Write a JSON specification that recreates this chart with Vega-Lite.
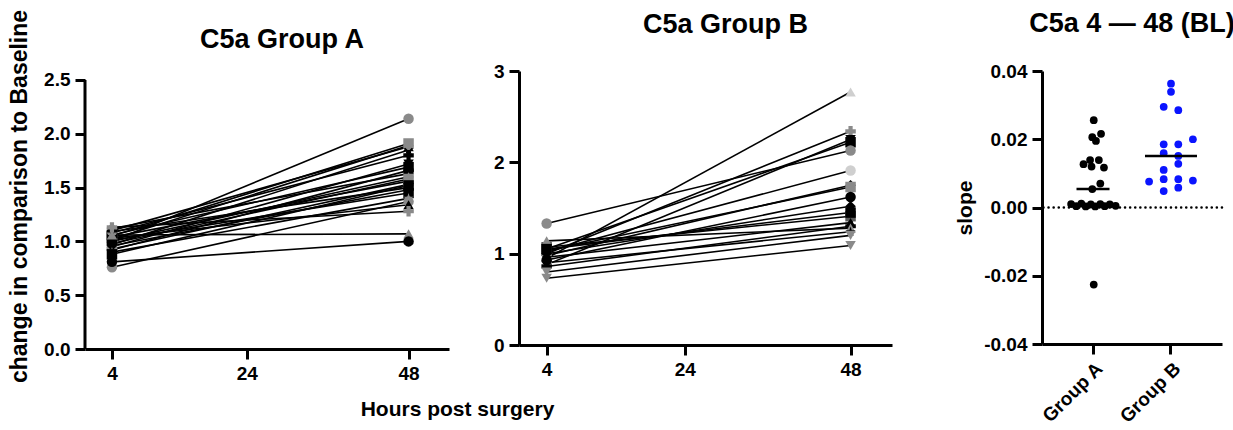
{
  "$schema": "https://vega.github.io/schema/vega-lite/v6.json",
  "background": "white",
  "padding": {"left": 8, "top": 9, "right": 5, "bottom": 5},
  "config": {
    "font": "Liberation Sans",
    "view": {"stroke": null},
    "axis": {"grid": false, "domainColor": "black", "domainWidth": 3, "tickColor": "black", "tickWidth": 3, "tickSize": 10, "labelFont": "Liberation Sans", "labelFontSize": 19, "labelFontWeight": "bold", "labelColor": "black", "labelPadding": 5, "titleFont": "Liberation Sans", "titleFontSize": 21, "titleFontWeight": "bold", "titleColor": "black"},
    "title": {"font": "Liberation Sans", "fontSize": 27, "fontWeight": "bold", "color": "black"},
    "legend": {"disable": true}
  },
  "datasets": {
    "a": [
      {"id": "A01", "h": 4, "v": 1.00}, {"id": "A01", "h": 48, "v": 2.14},
      {"id": "A02", "h": 4, "v": 1.05}, {"id": "A02", "h": 48, "v": 1.91},
      {"id": "A03", "h": 4, "v": 1.10}, {"id": "A03", "h": 48, "v": 1.88},
      {"id": "A04", "h": 4, "v": 0.97}, {"id": "A04", "h": 48, "v": 1.85},
      {"id": "A05", "h": 4, "v": 1.02}, {"id": "A05", "h": 48, "v": 1.89},
      {"id": "A06", "h": 4, "v": 1.08}, {"id": "A06", "h": 48, "v": 1.80},
      {"id": "A07", "h": 4, "v": 0.95}, {"id": "A07", "h": 48, "v": 1.72},
      {"id": "A08", "h": 4, "v": 1.06}, {"id": "A08", "h": 48, "v": 1.69},
      {"id": "A09", "h": 4, "v": 0.92}, {"id": "A09", "h": 48, "v": 1.66},
      {"id": "A10", "h": 4, "v": 1.12}, {"id": "A10", "h": 48, "v": 1.63},
      {"id": "A11", "h": 4, "v": 1.00}, {"id": "A11", "h": 48, "v": 1.60},
      {"id": "A12", "h": 4, "v": 0.98}, {"id": "A12", "h": 48, "v": 1.58},
      {"id": "A13", "h": 4, "v": 1.04}, {"id": "A13", "h": 48, "v": 1.56},
      {"id": "A14", "h": 4, "v": 0.93}, {"id": "A14", "h": 48, "v": 1.53},
      {"id": "A15", "h": 4, "v": 1.09}, {"id": "A15", "h": 48, "v": 1.50},
      {"id": "A16", "h": 4, "v": 0.96}, {"id": "A16", "h": 48, "v": 1.48},
      {"id": "A17", "h": 4, "v": 1.01}, {"id": "A17", "h": 48, "v": 1.45},
      {"id": "A18", "h": 4, "v": 0.90}, {"id": "A18", "h": 48, "v": 1.40},
      {"id": "A19", "h": 4, "v": 0.76}, {"id": "A19", "h": 48, "v": 1.37},
      {"id": "A20", "h": 4, "v": 1.03}, {"id": "A20", "h": 48, "v": 1.34},
      {"id": "A21", "h": 4, "v": 1.13}, {"id": "A21", "h": 48, "v": 1.28},
      {"id": "A22", "h": 4, "v": 0.88}, {"id": "A22", "h": 48, "v": 1.52},
      {"id": "A23", "h": 4, "v": 1.06}, {"id": "A23", "h": 48, "v": 1.07},
      {"id": "A24", "h": 4, "v": 0.81}, {"id": "A24", "h": 48, "v": 1.00}
    ],
    "b": [
      {"id": "B01", "h": 4, "v": 0.95}, {"id": "B01", "h": 48, "v": 2.77},
      {"id": "B02", "h": 4, "v": 1.00}, {"id": "B02", "h": 48, "v": 2.34},
      {"id": "B03", "h": 4, "v": 1.05}, {"id": "B03", "h": 48, "v": 2.22},
      {"id": "B04", "h": 4, "v": 0.88}, {"id": "B04", "h": 48, "v": 2.25},
      {"id": "B05", "h": 4, "v": 1.33}, {"id": "B05", "h": 48, "v": 2.13},
      {"id": "B06", "h": 4, "v": 1.02}, {"id": "B06", "h": 48, "v": 1.91},
      {"id": "B07", "h": 4, "v": 0.98}, {"id": "B07", "h": 48, "v": 1.75},
      {"id": "B08", "h": 4, "v": 1.03}, {"id": "B08", "h": 48, "v": 1.73},
      {"id": "B09", "h": 4, "v": 0.93}, {"id": "B09", "h": 48, "v": 1.62},
      {"id": "B10", "h": 4, "v": 1.00}, {"id": "B10", "h": 48, "v": 1.52},
      {"id": "B11", "h": 4, "v": 1.07}, {"id": "B11", "h": 48, "v": 1.41},
      {"id": "B12", "h": 4, "v": 0.96}, {"id": "B12", "h": 48, "v": 1.34},
      {"id": "B13", "h": 4, "v": 0.86}, {"id": "B13", "h": 48, "v": 1.30},
      {"id": "B14", "h": 4, "v": 1.14}, {"id": "B14", "h": 48, "v": 1.28},
      {"id": "B15", "h": 4, "v": 0.90}, {"id": "B15", "h": 48, "v": 1.24},
      {"id": "B16", "h": 4, "v": 0.80}, {"id": "B16", "h": 48, "v": 1.20},
      {"id": "B17", "h": 4, "v": 0.73}, {"id": "B17", "h": 48, "v": 1.09},
      {"id": "B18", "h": 4, "v": 1.05}, {"id": "B18", "h": 48, "v": 1.45}
    ],
    "slopes": [
      {"group": "Group A", "slope": 0.0256, "jit": 0.1},
      {"group": "Group A", "slope": 0.0216, "jit": 1.1},
      {"group": "Group A", "slope": 0.0206, "jit": -0.1},
      {"group": "Group A", "slope": 0.0195, "jit": 0.4},
      {"group": "Group A", "slope": 0.0139, "jit": -0.4},
      {"group": "Group A", "slope": 0.0139, "jit": 0.8},
      {"group": "Group A", "slope": 0.0127, "jit": -1.3},
      {"group": "Group A", "slope": 0.0120, "jit": -0.2},
      {"group": "Group A", "slope": 0.0117, "jit": 1.5},
      {"group": "Group A", "slope": 0.0070, "jit": 1.0},
      {"group": "Group A", "slope": 0.0054, "jit": -0.1},
      {"group": "Group A", "slope": 0.0010, "jit": -3.0},
      {"group": "Group A", "slope": 0.0004, "jit": -2.3},
      {"group": "Group A", "slope": 0.0011, "jit": -1.6},
      {"group": "Group A", "slope": 0.0003, "jit": -1.0},
      {"group": "Group A", "slope": 0.0009, "jit": -0.3},
      {"group": "Group A", "slope": 0.0003, "jit": 0.3},
      {"group": "Group A", "slope": 0.0010, "jit": 1.0},
      {"group": "Group A", "slope": 0.0004, "jit": 1.6},
      {"group": "Group A", "slope": 0.0009, "jit": 2.3},
      {"group": "Group A", "slope": 0.0005, "jit": 3.1},
      {"group": "Group A", "slope": -0.0226, "jit": 0.1},
      {"group": "Group B", "slope": 0.0363, "jit": 0},
      {"group": "Group B", "slope": 0.0339, "jit": 0},
      {"group": "Group B", "slope": 0.0295, "jit": -1},
      {"group": "Group B", "slope": 0.0285, "jit": 1},
      {"group": "Group B", "slope": 0.0200, "jit": 3},
      {"group": "Group B", "slope": 0.0185, "jit": -1},
      {"group": "Group B", "slope": 0.0185, "jit": 1},
      {"group": "Group B", "slope": 0.0159, "jit": -1},
      {"group": "Group B", "slope": 0.0151, "jit": 1},
      {"group": "Group B", "slope": 0.0128, "jit": 1},
      {"group": "Group B", "slope": 0.0110, "jit": -1},
      {"group": "Group B", "slope": 0.0076, "jit": -3},
      {"group": "Group B", "slope": 0.0083, "jit": -1},
      {"group": "Group B", "slope": 0.0083, "jit": 1},
      {"group": "Group B", "slope": 0.0079, "jit": 3},
      {"group": "Group B", "slope": 0.0048, "jit": -1},
      {"group": "Group B", "slope": 0.0058, "jit": 1}
    ],
    "means": [
      {"group": "Group A", "slope": 0.0054},
      {"group": "Group B", "slope": 0.0151}
    ]
  },
  "hconcat": [
    {
      "width": 364,
      "height": 278,
      "title": {"text": "C5a Group A", "frame": "group", "dx": 15, "offset": -45},
      "layer": [
        {
          "data": {"values": [{"k": 1}]},
          "mark": {"type": "rule", "color": "black", "strokeWidth": 3},
          "encoding": {
            "x": {"datum": 0, "type": "quantitative", "scale": {"domain": [0, 54], "nice": false, "zero": false}, "axis": {"values": [4, 24, 48], "title": "Hours post surgery", "titleX": 372, "titleY": 60, "titleBaseline": "middle"}},
            "y": {"datum": 0, "type": "quantitative", "scale": {"domain": [0, 2.5836], "nice": false}, "axis": {"values": [0, 0.5, 1, 1.5, 2, 2.5], "format": ".1f", "domain": false, "title": "change in comparison to Baseline", "titleY": 125, "titlePadding": 12, "titleFontSize": 23}},
            "y2": {"datum": 2.5}
          }
        },
        {
          "data": {"name": "a"},
          "mark": {"type": "line", "color": "black", "strokeWidth": 1.6},
          "encoding": {
            "x": {"field": "h", "type": "quantitative", "scale": {"domain": [0, 54], "nice": false, "zero": false}, "axis": {"values": [4, 24, 48], "title": "Hours post surgery", "titleX": 372, "titleY": 60, "titleBaseline": "middle"}},
            "y": {"field": "v", "type": "quantitative", "scale": {"domain": [0, 2.5836], "nice": false}, "axis": {"values": [0, 0.5, 1, 1.5, 2, 2.5], "format": ".1f", "domain": false, "title": "change in comparison to Baseline", "titleY": 125, "titlePadding": 12, "titleFontSize": 23}},
            "detail": {"field": "id", "type": "nominal"}
          }
        },
        {
          "data": {"name": "a"},
          "mark": {"type": "point", "filled": true, "size": 110, "opacity": 1},
          "encoding": {
            "x": {"field": "h", "type": "quantitative"},
            "y": {"field": "v", "type": "quantitative"},
            "shape": {"field": "id", "type": "nominal", "scale": {
              "domain": ["A01","A02","A03","A04","A05","A06","A07","A08","A09","A10","A11","A12","A13","A14","A15","A16","A17","A18","A19","A20","A21","A22","A23","A24"],
              "range": ["circle","square","triangle-up","M0,-1L0.2245,-0.309L0.951,-0.309L0.363,0.118L0.588,0.809L0,0.382L-0.588,0.809L-0.363,0.118L-0.951,-0.309L-0.2245,-0.309Z","diamond","cross","triangle-down","square","circle","diamond","triangle-up","square","triangle-down","cross","triangle-down","diamond","square","M0,-1L0.2245,-0.309L0.951,-0.309L0.363,0.118L0.588,0.809L0,0.382L-0.588,0.809L-0.363,0.118L-0.951,-0.309L-0.2245,-0.309Z","circle","triangle-up","cross","square","triangle-up","circle"]}},
            "color": {"field": "id", "type": "nominal", "scale": {
              "domain": ["A01","A02","A03","A04","A05","A06","A07","A08","A09","A10","A11","A12","A13","A14","A15","A16","A17","A18","A19","A20","A21","A22","A23","A24"],
              "range": ["#8a8a8a","#8a8a8a","black","black","#8a8a8a","black","black","black","black","black","#8a8a8a","#8a8a8a","#8a8a8a","#8a8a8a","black","black","black","#8a8a8a","#8a8a8a","black","#8a8a8a","black","#8a8a8a","black"]}}
          }
        }
      ]
    },
    {
      "width": 373,
      "height": 274,
      "title": {"text": "C5a Group B", "frame": "group", "dx": 20, "offset": 23},
      "layer": [
        {
          "data": {"name": "b"},
          "mark": {"type": "line", "color": "black", "strokeWidth": 1.6},
          "encoding": {
            "x": {"field": "h", "type": "quantitative", "scale": {"domain": [0, 54], "nice": false, "zero": false}, "axis": {"values": [4, 24, 48], "title": null}},
            "y": {"field": "v", "type": "quantitative", "scale": {"domain": [0, 3], "nice": false}, "axis": {"values": [0, 1, 2, 3], "format": "d", "title": null}},
            "detail": {"field": "id", "type": "nominal"}
          }
        },
        {
          "data": {"name": "b"},
          "mark": {"type": "point", "filled": true, "size": 110, "opacity": 1},
          "encoding": {
            "x": {"field": "h", "type": "quantitative"},
            "y": {"field": "v", "type": "quantitative"},
            "shape": {"field": "id", "type": "nominal", "scale": {
              "domain": ["B01","B02","B03","B04","B05","B06","B07","B08","B09","B10","B11","B12","B13","B14","B15","B16","B17","B18"],
              "range": ["triangle-up","cross","square","triangle-down","circle","circle","diamond","square","circle","diamond","square","triangle-up","cross","triangle-up","M0,-1L0.2245,-0.309L0.951,-0.309L0.363,0.118L0.588,0.809L0,0.382L-0.588,0.809L-0.363,0.118L-0.951,-0.309L-0.2245,-0.309Z","triangle-down","triangle-down","square"]}},
            "color": {"field": "id", "type": "nominal", "scale": {
              "domain": ["B01","B02","B03","B04","B05","B06","B07","B08","B09","B10","B11","B12","B13","B14","B15","B16","B17","B18"],
              "range": ["#cfcfcf","#8a8a8a","black","black","#8a8a8a","#cfcfcf","black","#8a8a8a","black","black","#5a5a5a","black","black","#8a8a8a","black","#8a8a8a","#8a8a8a","black"]}}
          }
        }
      ]
    },
    {
      "width": 10,
      "height": 274,
      "data": {"values": [{"k": 1}]},
      "mark": {"type": "point", "opacity": 0},
      "encoding": {}
    },
    {
      "width": 180,
      "height": 273,
      "title": {"text": "C5a 4 — 48 (BL)", "frame": "group", "offset": 24},
      "layer": [
        {
          "data": {"values": [{"k": 1}]},
          "mark": {"type": "rule", "color": "black", "strokeWidth": 2.5, "strokeDash": [0.1, 5], "strokeCap": "round"},
          "encoding": {
            "y": {"datum": 0, "type": "quantitative", "scale": {"domain": [-0.04, 0.04], "nice": false}, "axis": {"values": [-0.04, -0.02, 0, 0.02, 0.04], "format": ".2f", "labelExpr": "replace(datum.label, '\u2212', '-')", "title": "slope", "titlePadding": 8}}
          }
        },
        {
          "data": {"name": "slopes"},
          "mark": {"type": "point", "shape": "circle", "filled": true, "size": 60, "opacity": 1},
          "encoding": {
            "x": {"field": "group", "type": "nominal", "scale": {"domain": ["Group A", "Group B"], "paddingInner": 0, "paddingOuter": 0.154}, "axis": {"title": null, "labelAngle": -45}},
            "xOffset": {"field": "jit", "type": "quantitative", "scale": {"domain": [-5, 5], "range": [2.5, 75.5]}},
            "y": {"field": "slope", "type": "quantitative", "scale": {"domain": [-0.04, 0.04], "nice": false}, "axis": {"values": [-0.04, -0.02, 0, 0.02, 0.04], "format": ".2f", "labelExpr": "replace(datum.label, '\u2212', '-')", "title": "slope", "titlePadding": 8}},
            "color": {"field": "group", "type": "nominal", "scale": {"domain": ["Group A", "Group B"], "range": ["black", "#0a14ff"]}}
          }
        },
        {
          "data": {"name": "means"},
          "mark": {"type": "tick", "color": "black", "thickness": 2.5, "opacity": 1},
          "encoding": {
            "x": {"field": "group", "type": "nominal"},
            "y": {"field": "slope", "type": "quantitative"},
            "size": {"field": "group", "type": "ordinal", "scale": {"domain": ["Group A", "Group B"], "range": [33, 52]}}
          }
        }
      ]
    }
  ],
  "spacing": 70,
  "bounds": "flush",
  "resolve": {"scale": {"color": "independent", "shape": "independent", "size": "independent"}}
}
